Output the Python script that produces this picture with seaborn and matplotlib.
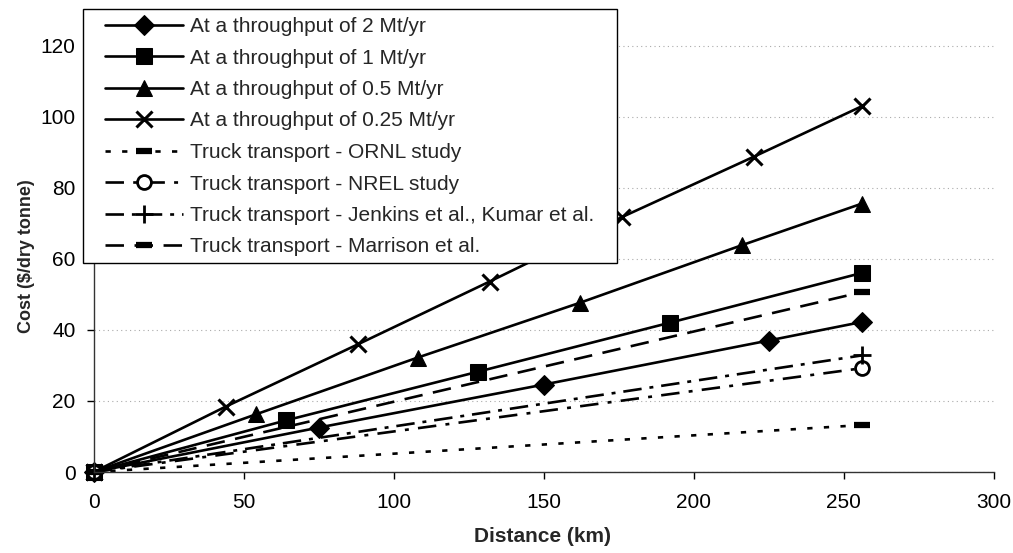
import matplotlib
matplotlib.use("Agg")
import matplotlib.pyplot as plt
import seaborn as sns
import pandas as pd
from matplotlib.patches import Rectangle

# ---------------- data ----------------
dist_2mt = [0, 75, 150, 225, 256]
cost_2mt = [0, 12.5, 24.6, 37.0, 42.2]
dist_1mt = [0, 64, 128, 192, 256]
cost_1mt = [0, 14.5, 28.2, 42.0, 56.0]
dist_05mt = [0, 54, 108, 162, 216, 256]
cost_05mt = [0, 16.2, 32.2, 47.6, 63.8, 75.5]
dist_025mt = [0, 44, 88, 132, 176, 220, 256]
cost_025mt = [0, 18.4, 35.9, 53.6, 71.7, 88.7, 102.9]
dist_truck = [0, 256]
cost_ornl = [0, 13.2]
cost_nrel = [0, 29.2]
cost_jenkins = [0, 32.8]
cost_marrison = [0, 50.6]

labels = [
    "At a throughput of 2 Mt/yr",
    "At a throughput of 1 Mt/yr",
    "At a throughput of 0.5 Mt/yr",
    "At a throughput of 0.25 Mt/yr",
    "Truck transport - ORNL study",
    "Truck transport - NREL study",
    "Truck transport - Jenkins et al., Kumar et al.",
    "Truck transport - Marrison et al.",
]
x_ticks = [0, 50, 100, 150, 200, 250, 300]
y_ticks = [0, 20, 40, 60, 80, 100, 120]

series = [
    (dist_2mt, cost_2mt),
    (dist_1mt, cost_1mt),
    (dist_05mt, cost_05mt),
    (dist_025mt, cost_025mt),
    (dist_truck, cost_ornl),
    (dist_truck, cost_nrel),
    (dist_truck, cost_jenkins),
    (dist_truck, cost_marrison),
]

# ---------------- styles ----------------
LW = 1.9
styles = [
    dict(linestyle="-", marker="D", markersize=10),
    dict(linestyle="-", marker="s", markersize=11),
    dict(linestyle="-", marker="^", markersize=12),
    dict(linestyle="-", marker="x", markersize=12, markeredgewidth=2.2),
    dict(linestyle=(0, (2, 4.3)), marker="_", markersize=12, markeredgewidth=4.5),
    dict(linestyle=(0, (7, 3.5, 1.5, 3.5)), marker="o", markersize=10,
         markerfacecolor="white", markeredgewidth=2),
    dict(linestyle=(0, (7, 3, 1.5, 3)), marker="+", markersize=13, markeredgewidth=2),
    dict(linestyle=(0, (7, 4)), marker="_", markersize=12, markeredgewidth=4.5),
]

sns.set_theme(style="ticks")
plt.rcParams["font.family"] = ["Liberation Sans", "DejaVu Sans"]

W, H = 1013, 553
fig = plt.figure(figsize=(W / 100, H / 100), dpi=100)
ax_left, ax_right, ax_top, ax_bottom = 93.7, 993.7, 10.0, 472.0
ax = fig.add_axes([ax_left / W, 1 - ax_bottom / H,
                   (ax_right - ax_left) / W, (ax_bottom - ax_top) / H])

for (xs, ys), lab, st in zip(series, labels, styles):
    df = pd.DataFrame({"Distance": xs, "Cost": ys})
    sns.lineplot(data=df, x="Distance", y="Cost", ax=ax, color="black",
                 linewidth=LW, label=lab, clip_on=False,
                 markeredgecolor="black", **st)

ax.set_xlim(0, 300)
ax.set_ylim(0, 130)
ax.set_xticks(x_ticks)
ax.set_yticks(y_ticks)
ax.tick_params(axis="both", labelsize=15, colors="black", direction="out",
               length=5, width=1)
ax.tick_params(axis="x", pad=10)
ax.tick_params(axis="y", pad=8)
for s in ["top", "right"]:
    ax.spines[s].set_visible(False)
for s in ["left", "bottom"]:
    ax.spines[s].set_color("#333333")
    ax.spines[s].set_linewidth(1.0)
ax.set_facecolor("white")
ax.yaxis.grid(True, color="#aaaaaa", linestyle=(0, (1, 3)), linewidth=0.8)
ax.set_axisbelow(True)

ax.set_xlabel("Distance (km)", fontsize=15, fontweight="bold")
ax.set_ylabel("Cost ($/dry tonne)", fontsize=13, fontweight="bold")
ax.xaxis.set_label_coords(0.4987, (ax_bottom - 527) / (ax_bottom - ax_top))
ax.yaxis.set_label_coords((35 - ax_left) / (ax_right - ax_left),
                          (ax_bottom - 256) / (ax_bottom - ax_top))

handles, labs = ax.get_legend_handles_labels()
leg = ax.legend(handles, labs, loc="upper left",
                bbox_to_anchor=(105 / W, 1 - 17 / H), bbox_transform=fig.transFigure,
                frameon=False, fontsize=15, borderpad=0, handlelength=3.75,
                handletextpad=0.35, labelspacing=0.6, borderaxespad=0)
leg.set_zorder(6)

fig.canvas.draw()
bb = leg.get_window_extent()
padx, pad_top, pad_bot = 22, 8, 6
rect = Rectangle(((bb.x0 - padx) / W, (bb.y0 - pad_bot) / H),
                 (bb.width + 2 * padx) / W, (bb.height + pad_top + pad_bot) / H,
                 transform=fig.transFigure, facecolor="white", edgecolor="black",
                 linewidth=1.0, zorder=5.5, clip_on=False)
ax.add_patch(rect)

fig.savefig("out.png", dpi=100, facecolor="white")
